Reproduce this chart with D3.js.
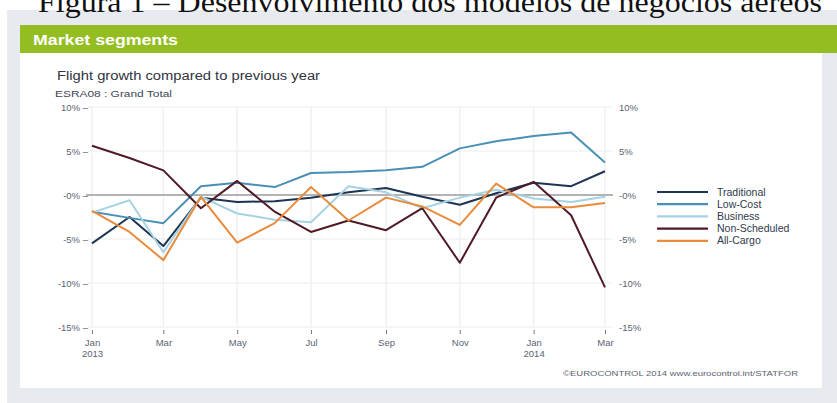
<!DOCTYPE html>
<html><head><meta charset="utf-8">
<script src="https://cdn.jsdelivr.net/npm/d3@7"></script>
<style>
html,body{margin:0;padding:0;background:#fff;}
svg{display:block;}
text{font-family:"Liberation Sans",Arial,sans-serif;}
</style></head>
<body><svg id="c" width="837" height="403"></svg>
<script>
const months = ["2013-01","2013-02","2013-03","2013-04","2013-05","2013-06","2013-07","2013-08","2013-09","2013-10","2013-11","2013-12","2014-01","2014-02","2014-03"];
const traditional  = [-5.5,-2.5,-5.8,-0.3,-0.8,-0.7,-0.3, 0.3, 0.8,-0.2,-1.1, 0.2, 1.4, 1.0, 2.7];
const lowCost      = [-1.9,-2.6,-3.2, 1.0, 1.4, 0.9, 2.5, 2.6, 2.8, 3.2, 5.3, 6.1, 6.7, 7.1, 3.7];
const business     = [-2.0,-0.6,-6.5,-0.2,-2.1,-2.8,-3.1, 1.0, 0.3,-1.5,-0.3, 0.6,-0.4,-0.8,-0.2];
const nonScheduled = [ 5.6, 4.2, 2.8,-1.5, 1.6,-1.9,-4.2,-2.9,-4.0,-1.5,-7.7,-0.3, 1.5,-2.3,-10.5];
const allCargo     = [-1.8,-4.2,-7.4,-0.2,-5.4,-3.2, 0.9,-2.9,-0.3,-1.3,-3.4, 1.3,-1.4,-1.4,-0.9];
const seriesNames  = ["Traditional","Low-Cost","Business","Non-Scheduled","All-Cargo"];
const seriesColors = ["#1d3553","#4a8fb5","#a5d3e3","#4e1a26","#e88b3c"];
const yTicks = [10,5,0,-5,-10,-15];
const xTickLabels = ["Jan\n2013","Mar","May","Jul","Sep","Nov","Jan\n2014","Mar"];

const parse = d3.timeParse("%Y-%m");
const dates = months.map(parse);
const seriesData = [traditional, lowCost, business, nonScheduled, allCargo];

const svg = d3.select("#c");
// background
svg.append("rect").attr("x",7).attr("y",10).attr("width",830).attr("height",393).attr("fill","#e7eaee");
svg.append("rect").attr("x",20).attr("y",25).attr("width",817).attr("height",28).attr("fill","#93bd21");
svg.append("rect").attr("x",20).attr("y",53).attr("width",802).attr("height",335).attr("fill","#fff");

// Figure caption (cropped at top, as in the source)
svg.append("text").attr("x",38).attr("y",12)
  .style("font-family","'Liberation Serif','Times New Roman',serif")
  .attr("font-size",30).attr("fill","#111").attr("textLength",784).attr("lengthAdjust","spacingAndGlyphs")
  .text("Figura 1 – Desenvolvimento dos modelos de negócios aéreos");

svg.append("text").attr("x",33).attr("y",45).attr("font-size",14).attr("font-weight","bold").attr("fill","#fff")
  .attr("textLength",145).attr("lengthAdjust","spacingAndGlyphs").text("Market segments");

svg.append("text").attr("x",57).attr("y",80).attr("font-size",12.5).attr("fill","#2e3540")
  .attr("textLength",263).attr("lengthAdjust","spacingAndGlyphs").text("Flight growth compared to previous year");
svg.append("text").attr("x",55).attr("y",97).attr("font-size",9.5).attr("fill","#3c4656")
  .attr("textLength",117).attr("lengthAdjust","spacingAndGlyphs").text("ESRA08 : Grand Total");

const x = d3.scaleTime().domain([dates[0], dates[dates.length-1]]).range([92,605]);
const y = d3.scaleLinear().domain([-15,10]).range([327,107]);

const tickDates = dates.filter((d,i)=>i%2===0);

// grid
const g = svg.append("g");
g.selectAll(".vg").data(tickDates).enter().append("line")
  .attr("x1",d=>x(d)).attr("x2",d=>x(d)).attr("y1",y(10)).attr("y2",y(-15))
  .attr("stroke","#eef0f3").attr("stroke-width",1.5);
g.selectAll(".hg").data(yTicks.filter(d=>d!==0)).enter().append("line")
  .attr("x1",88).attr("x2",612).attr("y1",d=>y(d)).attr("y2",d=>y(d))
  .attr("stroke","#f1f2f4").attr("stroke-width",1.5);
g.append("line").attr("x1",86).attr("x2",613).attr("y1",y(0)).attr("y2",y(0))
  .attr("stroke","#b3b3b3").attr("stroke-width",2);

// left axis
const fmt = d => (d===0 ? "-0" : d) + "%";
const la = svg.append("g").attr("transform","translate(88,0)")
  .call(d3.axisLeft(y).tickValues(yTicks).tickSize(0).tickPadding(0).tickFormat(d=>fmt(d)+" –"));
la.select(".domain").remove();
la.selectAll("text").attr("font-size",9.5).attr("fill","#5a6372").style("font-family","'Liberation Sans',Arial,sans-serif");

// right axis
const ra = svg.append("g").attr("transform","translate(619,0)")
  .call(d3.axisRight(y).tickValues(yTicks).tickSize(0).tickPadding(0).tickFormat(fmt));
ra.select(".domain").remove();
ra.selectAll("text").attr("font-size",9.5).attr("fill","#5a6372").style("font-family","'Liberation Sans',Arial,sans-serif");

// bottom axis
const ba = svg.append("g").attr("transform","translate(0,330)")
  .call(d3.axisBottom(x).tickValues(tickDates).tickSize(4).tickPadding(5).tickFormat((d,i)=>xTickLabels[i]));
ba.select(".domain").remove();
ba.selectAll("line").attr("stroke","#777");
ba.selectAll("text").each(function(d,i){
  const t = d3.select(this); const parts = xTickLabels[i].split("\n");
  t.text(null).attr("font-size",9.5).attr("fill","#5a6372").style("font-family","'Liberation Sans',Arial,sans-serif");
  parts.forEach((p,k)=>t.append("tspan").attr("x",0).attr("dy",k===0?"0.71em":"1.2em").text(p));
});

// lines
const line = d3.line().x((d,i)=>x(dates[i])).y(d=>y(d));
svg.append("g").selectAll("path").data(seriesData).enter().append("path")
  .attr("d",line).attr("fill","none").attr("stroke",(d,i)=>seriesColors[i])
  .attr("stroke-width",2).attr("stroke-linejoin","round");

// legend
const lg = svg.append("g").selectAll("g").data(seriesNames).enter().append("g")
  .attr("transform",(d,i)=>`translate(657,${192+i*12.2})`);
lg.append("line").attr("x1",0).attr("x2",51).attr("stroke",(d,i)=>seriesColors[i]).attr("stroke-width",2.2);
lg.append("text").attr("x",60).attr("dy","0.35em").attr("font-size",10.5).attr("fill","#2e3a4c").text(d=>d);

// footer
svg.append("text").attr("x",563).attr("y",376).attr("font-size",7.5).attr("fill","#5a6372")
  .attr("textLength",235).attr("lengthAdjust","spacingAndGlyphs")
  .text("©EUROCONTROL 2014 www.eurocontrol.int/STATFOR");
</script></body></html>
